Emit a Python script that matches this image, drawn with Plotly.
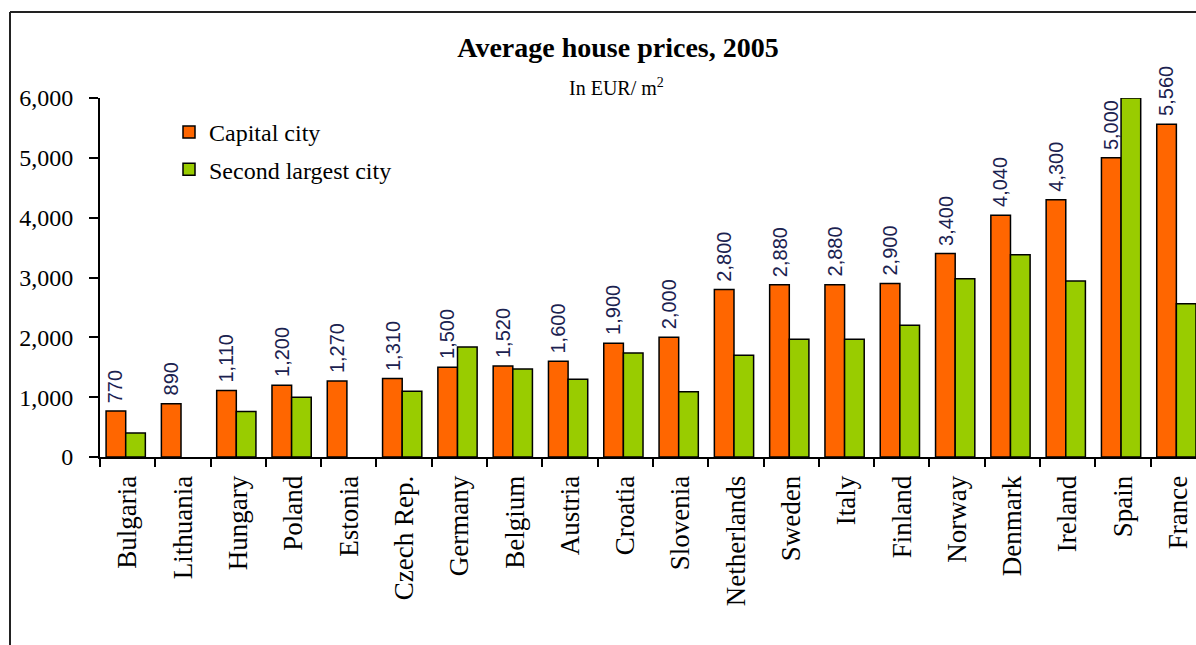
import plotly.graph_objects as go

countries = ["Bulgaria", "Lithuania", "Hungary", "Poland", "Estonia", "Czech Rep.",
             "Germany", "Belgium", "Austria", "Croatia", "Slovenia", "Netherlands",
             "Sweden", "Italy", "Finland", "Norway", "Denmark", "Ireland", "Spain", "France"]
capital_city = [770, 890, 1110, 1200, 1270, 1310, 1500, 1520, 1600, 1900, 2000, 2800,
                2880, 2880, 2900, 3400, 4040, 4300, 5000, 5560]
second_city = [400, None, 760, 1000, None, 1100, 1840, 1470, 1300, 1740, 1090, 1700,
               1970, 1970, 2200, 2980, 3380, 2940, 6000, 2560]
y_ticks = [0, 1000, 2000, 3000, 4000, 5000, 6000]

ORANGE = "#FF6600"
GREEN = "#99CC00"
SERIF = "Liberation Serif, Times New Roman, serif"
SANS = "Liberation Sans, Arial, sans-serif"

W, H = 1196, 645
ML, MR, MT, MB = 100, 0, 98, 188
PW, PH = W - ML - MR, H - MT - MB

BAR_W = 0.355
OFF1 = -0.39
OFF2 = OFF1 + BAR_W
X_MAX = 19.32


def px_to_paper_x(px):
    return (px - ML) / PW


def py_to_paper_y(py):
    return (H - MB - py) / PH


fig = go.Figure()
fig.add_trace(go.Bar(
    x=countries, y=capital_city, name="Capital city",
    marker=dict(color=ORANGE, line=dict(color="black", width=1.5)),
    width=BAR_W, offset=OFF1, legendgroup="a",
))
fig.add_trace(go.Bar(
    x=countries, y=second_city, name="Second largest city",
    marker=dict(color=GREEN, line=dict(color="black", width=1.5)),
    width=BAR_W, offset=OFF2, legendgroup="b",
))

# value labels above capital-city bars
cat_px = PW / (X_MAX + 0.5)
label_shift = (OFF1 + BAR_W / 2) * cat_px
for c, v in zip(countries, capital_city):
    fig.add_annotation(
        x=c, y=v, xref="x", yref="y", text=f"{v:,}", showarrow=False,
        textangle=-90, yanchor="bottom", xanchor="center",
        xshift=label_shift, yshift=6,
        font=dict(family=SANS, size=20, color="#1b2250"),
    )

fig.add_annotation(
    x=px_to_paper_x(616), y=py_to_paper_y(87), xref="paper", yref="paper",
    text="In EUR/ m<sup>2</sup>", showarrow=False,
    xanchor="center", yanchor="middle",
    font=dict(family=SERIF, size=20, color="black"),
)

# chart frame (left and top edges)
fx = px_to_paper_x(10)
fy_top = py_to_paper_y(12)
fy_bot = py_to_paper_y(650)
fig.add_shape(type="line", xref="paper", yref="paper",
              x0=fx, x1=1.01, y0=fy_top, y1=fy_top,
              line=dict(color="#222222", width=2))
fig.add_shape(type="line", xref="paper", yref="paper",
              x0=fx, x1=fx, y0=fy_top, y1=fy_bot,
              line=dict(color="#222222", width=2))

fig.update_layout(
    width=W, height=H,
    margin=dict(l=ML, r=MR, t=MT, b=MB),
    paper_bgcolor="white", plot_bgcolor="white",
    barmode="overlay",
    title=dict(text="<b>Average house prices, 2005</b>", x=618 / W, xanchor="center",
               y=1 - 47 / H, yanchor="middle",
               font=dict(family=SERIF, size=28, color="black")),
    legend=dict(x=px_to_paper_x(169), y=py_to_paper_y(110), xanchor="left", yanchor="top",
                font=dict(family=SERIF, size=24, color="black"),
                bgcolor="rgba(0,0,0,0)", tracegroupgap=3, traceorder="grouped"),
    showlegend=True,
)

fig.update_xaxes(
    type="category", range=[-0.5, X_MAX],
    showline=True, linecolor="black", linewidth=2,
    ticks="outside", tickson="boundaries", ticklen=8, tickwidth=2, tickcolor="black",
    tickangle=-90, tickfont=dict(family=SERIF, size=27, color="black"),
    showgrid=False, zeroline=False, ticklabelstandoff=6,
)
fig.update_yaxes(
    range=[0, 6000], tickvals=y_ticks, tickformat=",",
    showline=True, linecolor="black", linewidth=2,
    ticks="outside", ticklen=9, tickwidth=2, tickcolor="black",
    tickfont=dict(family=SERIF, size=24, color="black"),
    showgrid=False, zeroline=False, ticklabelstandoff=11,
)

fig.write_html("out.html", config={"displayModeBar": False},
               post_script="document.body.style.margin='0px';")
